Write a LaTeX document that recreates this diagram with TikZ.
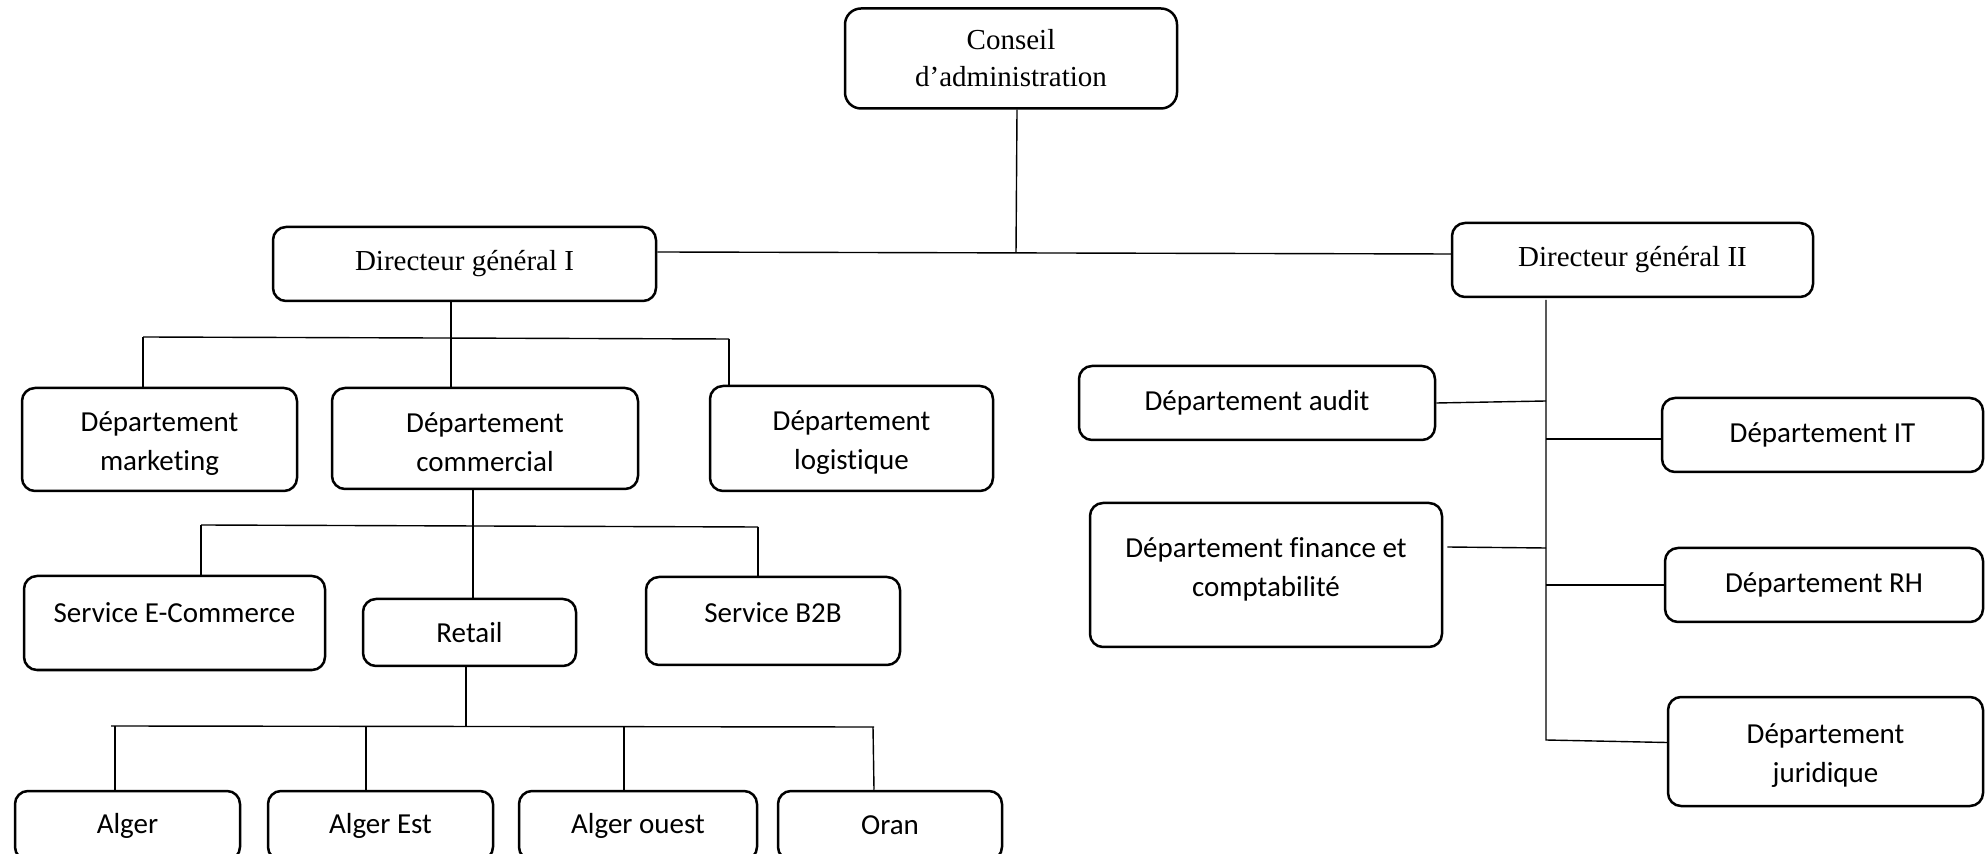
\documentclass[tikz,border=0pt]{standalone}
\usepackage{fontspec}
\setmainfont{Liberation Serif}
\newfontfamily\calibri[Ligatures=CommonOff]{Carlito}
\begin{document}
\begin{tikzpicture}[x=0.5pt,y=-0.5pt,
  box/.style={draw, rounded corners=6.5pt, line width=1.25pt, inner sep=0pt, align=center},
  sz/.style 2 args={minimum width=#1*0.5pt, minimum height=#2*0.5pt},
  stext/.style={font=\fontsize{14.5}{18.5}\selectfont},
  ctext/.style={font=\calibri\fontsize{14.5}{19.5}\selectfont, align=center},
  txt/.style 2 args={label={[ctext, yshift=#1]center:{#2}}},
  conn/.style={line width=0.7pt}]
\useasboundingbox (0,0) rectangle (1985,854);
\clip (0,0) rectangle (1985,854);

% top level
\node[box, stext, rounded corners=8pt, sz={332}{100}] (cons) at (1011,58.5) {Conseil\\d’administration};
\node[box, stext, sz={383}{74}] (dg1) at (464.5,264) {Directeur général I};
\node[box, stext, sz={361}{74}] (dg2) at (1632.5,260) {Directeur général II};

% departments under DG I
\node[box, sz={275}{103}, txt={-2pt}{Département\\marketing}] (mkt) at (159.5,439.5) {};
\node[box, sz={306}{101}, txt={-2pt}{Département\\commercial}] (com) at (485,438.5) {};
\node[box, sz={283}{105}, txt={-2pt}{Département\\logistique}] (log) at (851.5,438.5) {};

% services under the commercial department
\node[box, sz={301}{94}, txt={5pt}{Service E-Commerce}] (ecom) at (174.5,623) {};
\node[box, ctext, sz={213}{67}] (ret) at (469.5,632.5) {Retail};
\node[box, sz={254}{88}, txt={4pt}{Service B2B}] (b2b) at (773,621) {};

% retail branches
\node[box, ctext, sz={225}{69}] (alg) at (127.5,825.5) {Alger};
\node[box, ctext, sz={225}{69}] (alge) at (380.5,825.5) {Alger Est};
\node[box, ctext, sz={238}{69}] (algo) at (638,825.5) {Alger ouest};
\node[box, ctext, sz={224}{69}] (oran) at (890,825.5) {Oran};

% departments under DG II
\node[box, ctext, sz={356}{74}] (aud) at (1257,403) {Département audit};
\node[box, ctext, sz={321}{74}] (it) at (1822.5,435) {Département IT};
\node[box, sz={352}{144}, txt={3pt}{Département finance et\\comptabilité}] (fin) at (1266,575) {};
\node[box, ctext, sz={318}{74}] (rh) at (1824,585) {Département RH};
\node[box, sz={315}{109}, txt={-2pt}{Département\\juridique}] (jur) at (1825.5,751.5) {};

% board to general directors
\coordinate (jn) at (1016,253);
\draw[conn] ([yshift=6pt]dg1.east) -- ([yshift=3pt]dg2.west);
\draw[conn] ([xshift=3pt]cons.south) -- (jn);

% DG I tree
\coordinate (t1a) at (143,337);
\coordinate (t1b) at (729,339);
\coordinate (t1c) at (451,0);
\draw[conn] (t1a) -- (t1b);
\draw[conn] (t1a) -- (t1a |- mkt.north);
\draw[conn] (t1b) -- (t1b |- log.north);
\draw[conn] (t1c |- dg1.south) -- (t1c |- com.north);

% commercial tree
\coordinate (t2a) at (201,525);
\coordinate (t2b) at (758,527);
\coordinate (t2c) at (473,0);
\draw[conn] (t2a) -- (t2b);
\draw[conn] (t2a) -- (t2a |- ecom.north);
\draw[conn] (t2b) -- (t2b |- b2b.north);
\draw[conn] (t2c |- com.south) -- (t2c |- ret.north);

% retail tree
\coordinate (t3a) at (111,726);
\coordinate (t3b) at (874,727);
\coordinate (t3c) at (466,726);
\coordinate (v1) at (115,726);
\coordinate (v2) at (366,726);
\coordinate (v3) at (624,727);
\coordinate (v4) at (873,727);
\draw[conn] (t3a) -- (t3b);
\draw[conn] (t3c |- ret.south) -- (t3c);
\draw[conn] (v1) -- (v1 |- alg.north);
\draw[conn] (v2) -- (v2 |- alge.north);
\draw[conn] (v3) -- (v3 |- algo.north);
\draw[conn] (v4) -- ([xshift=0.5pt]v4 |- oran.north);

% DG II tree
\coordinate (sp0) at (1546,300);
\coordinate (sp1) at (1546,740);
\draw[conn] (sp0) -- (sp1) -- ([yshift=4.5pt]jur.west);
\draw[conn] (aud.east) -- ([yshift=1pt]aud.east -| sp0);
\draw[conn] ([yshift=-2pt]it.west -| sp0) -- ([yshift=-2pt]it.west);
\draw[conn] ([xshift=2pt,yshift=14pt]fin.east) -- ([yshift=13.5pt]fin.east -| sp0);
\draw[conn] (rh.west -| sp0) -- (rh.west);
\end{tikzpicture}
\end{document}
